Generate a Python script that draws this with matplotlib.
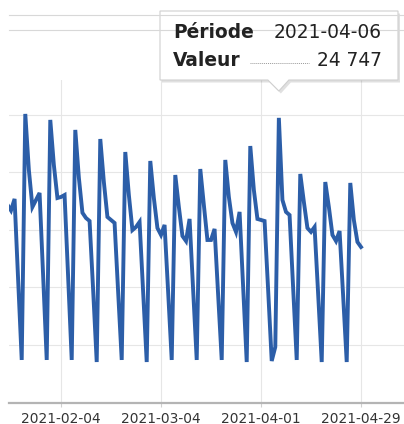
import numpy as np
import pandas as pd
import matplotlib
matplotlib.use("Agg")
import matplotlib.pyplot as plt
import matplotlib.dates as mdates
from matplotlib.patches import Polygon

# valeurs journalières
debut = "2021-01-20"
valeurs = [
    17200, 16700, 17700, 10650, 3700,                       # 20-24 janv
    25090, 20220, 17000, 17610, 18220, 11000, 3700,         # 25-31 janv
    24570, 20650, 17780, 17870, 18040, 10900, 3700,         # 1-7 fév
    23700, 19550, 16500, 16040, 15780, 9780, 3520,          # 8-14 fév
    22910, 19170, 16130, 15870, 15610, 9610, 3700,          # 15-21 fév
    21780, 18040, 14990, 15260, 15700, 9610, 3520,          # 22-28 fév
    21000, 17780, 15170, 14570, 15440, 9610, 3700,          # 1-7 mars
    19780, 17000, 14480, 14040, 15960, 9780, 3700,          # 8-14 mars
    20300, 17170, 14130, 14130, 15090, 9350, 3700,          # 15-21 mars
    21090, 17870, 15610, 14830, 16570, 10040, 3520,         # 22-28 mars
    22300, 18480, 15960, 15870, 15780, 9780, 3610,          # 29 mars-4 avr
    4830, 24747, 17610, 16570, 16300, 9960, 3700,           # 5-11 avr
    19870, 17440, 15170, 14830, 15260, 9440, 3520,          # 12-18 avr
    19170, 17000, 14570, 14040, 14910, 9260, 3520,          # 19-25 avr
    19090, 15870, 13960, 13520,                             # 26-29 avr
]
ticks_dates = ["2021-02-04", "2021-03-04", "2021-04-01", "2021-04-29"]
grille_y = [5000, 10000, 15000, 20000, 25000]

info_periode = "2021-04-06"
info_valeur = "24 747"

dates = pd.date_range(debut, periods=len(valeurs), freq="D")

W, H = 404, 424
fig = plt.figure(figsize=(W / 100, H / 100), dpi=100)
ax = fig.add_axes([9 / W, 1 - 402.5 / H, 1 - 9 / W, (402.5 - 80) / H])

ax.plot(dates, valeurs, color="#2c5ea8", lw=2.8, solid_joinstyle="miter", zorder=3)

x0 = pd.Timestamp("2021-02-04") - pd.Timedelta(days=14.56)
x1 = pd.Timestamp("2021-04-29") + pd.Timedelta(days=12.04)
ax.set_xlim(x0, x1)
ax.set_ylim(0, 28040)

tk = pd.to_datetime(ticks_dates)
ax.set_xticks(tk)
ax.xaxis.set_major_formatter(mdates.DateFormatter("%Y-%m-%d"))
ax.set_yticks(grille_y)
ax.set_yticklabels([])
ax.tick_params(axis="y", length=0)
ax.tick_params(axis="x", length=3, color="#d0d0d0", labelcolor="#333333",
               labelsize=9.9, pad=3.5)
ax.grid(True, color="#e6e6e6", lw=0.8)
ax.set_axisbelow(True)
for s in ["top", "right", "left"]:
    ax.spines[s].set_visible(False)
ax.spines["bottom"].set_color("#b4b4b4")
ax.spines["bottom"].set_linewidth(1.6)

# couche en pixels pour l'infobulle
ov = fig.add_axes([0, 0, 1, 1], zorder=10)
ov.set_xlim(0, W)
ov.set_ylim(H, 0)
ov.axis("off")
ov.patch.set_alpha(0)

ov.plot([9, W], [15, 15], color="#d8d8d8", lw=0.8)
ov.plot([9, W], [30, 30], color="#d8d8d8", lw=0.8)

fig.canvas.draw()
px = ax.transData.transform((mdates.date2num(pd.Timestamp(info_periode)), 24747))[0]

l, r, t, b = 160, 398, 11, 80
pts = [(l, t), (r, t), (r, b), (px + 10, b), (px, b + 11), (px - 11, b), (l, b)]
ombre = Polygon([(x + 2, y + 2.5) for x, y in pts], closed=True,
                facecolor="#000000", alpha=0.12, edgecolor="none")
ov.add_patch(ombre)
ov.add_patch(Polygon(pts, closed=True, facecolor="white", edgecolor="#cfcfcf", lw=0.8))

ov.text(173, 32, "Période", fontsize=13.4, fontweight="bold", color="#222222",
        va="center", ha="left")
ov.text(382, 32, info_periode, fontsize=13.4, color="#222222", va="center", ha="right")
ov.text(173, 61, "Valeur", fontsize=13.4, fontweight="bold", color="#222222",
        va="center", ha="left")
ov.text(382, 61, info_valeur, fontsize=13.4, color="#222222", va="center", ha="right")
ov.plot([250, 309], [63, 63], color="#9a9a9a", lw=0.7, ls=(0, (1, 1)))

fig.savefig("out.png", dpi=100)
